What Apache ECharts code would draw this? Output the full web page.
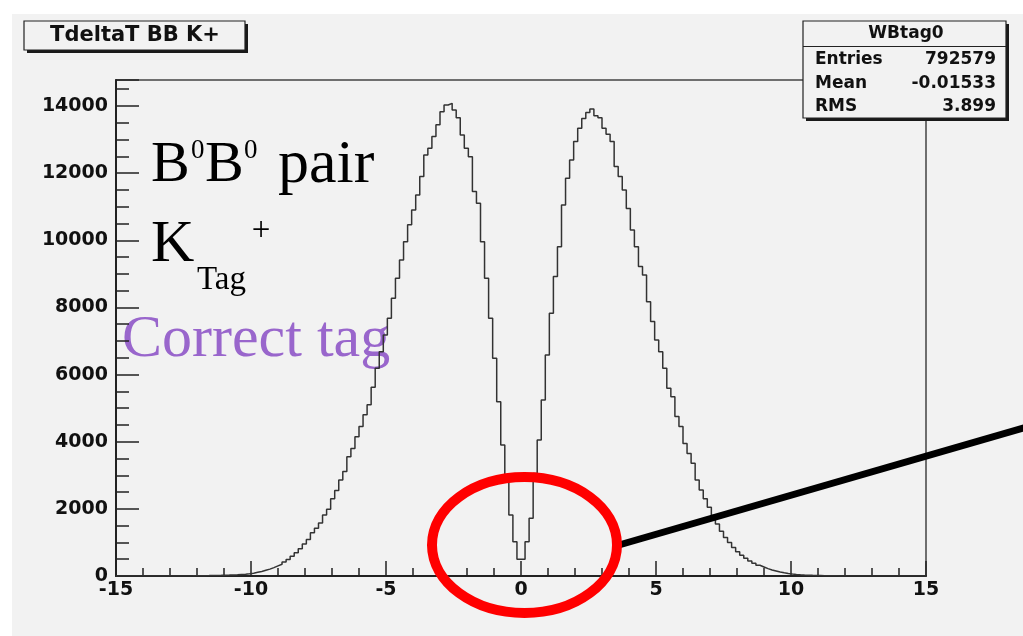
<!DOCTYPE html>
<html>
<head>
<meta charset="utf-8">
<script src="https://cdn.jsdelivr.net/npm/echarts/dist/echarts.min.js"></script>
<style>
  html, body { margin: 0; padding: 0; background: #ffffff; }
  #chart { width: 1023px; height: 636px; }
</style>
</head>
<body>
<div id="chart"></div>
<script>
// Histogram of the proper-time difference, 200 bins between -15 and 15
const histTitle = 'TdeltaT BB K+';
const histName = 'WBtag0';
const xRange = [-15, 15];
const binCount = 200;

// Bin contents, left to right
const counts = [
  0, 0, 0, 0, 0, 0, 0, 0, 0, 0,
  0, 0, 0, 0, 0, 1, 2, 3, 4, 6,
  8, 10, 12, 15, 18, 20, 24, 28, 33, 40,
  48, 55, 68, 85, 110, 135, 170, 205, 250, 300,
  350, 420, 490, 590, 690, 810, 950, 1090, 1290, 1420,
  1580, 1820, 1990, 2300, 2550, 2860, 3110, 3550, 3800, 4150,
  4450, 4800, 5100, 5620, 6190, 6680, 7180, 7680, 8270, 8870,
  9410, 9960, 10460, 10900, 11350, 11900, 12540, 12740, 13090, 13440,
  13830, 14030, 14080, 13880, 13650, 13140, 12740, 12490, 11450, 11100,
  9960, 8870, 7680, 6490, 5190, 3900, 2910, 1820, 1020, 500,
  500, 1020, 1720, 3050, 4050, 5240, 6580, 7830, 8920, 9810,
  11050, 11850, 12390, 12940, 13340, 13630, 13810, 13910, 13710, 13650,
  13340, 13160, 12940, 12200, 11900, 11500, 10950, 10310, 9810, 9220,
  8970, 8170, 7580, 7030, 6680, 6190, 5590, 5340, 4750, 4450,
  3950, 3650, 3360, 2860, 2560, 2300, 2050, 1800, 1550, 1330,
  1150, 1000, 850, 720, 620, 530, 450, 380, 320, 270,
  220, 180, 150, 120, 95, 75, 60, 48, 38, 30,
  24, 19, 15, 12, 9, 7, 5, 4, 3, 2,
  1, 0, 0, 0, 0, 0, 0, 0, 0, 0,
  0, 0, 0, 0, 0, 0, 0, 0, 0, 0
];

// Statistics box rows
const statLabels = ['Entries', 'Mean', 'RMS'];
const statValues = ['792579', '-0.01533', '3.899'];

// Axis ranges and tick steps
const yMax = 14775;
const xMajor = 5, xMinor = 1;
const yMajor = 2000, yMinor = 500;

const binWidth = (xRange[1] - xRange[0]) / binCount;
const stepData = counts.map((c, i) => [xRange[0] + i * binWidth, c]);
stepData.push([xRange[1], counts[counts.length - 1]]);

const sansBold = '"DejaVu Sans", sans-serif';
const serif = '"Liberation Serif", "Times New Roman", serif';
const ink = '#222';

const chart = echarts.init(document.getElementById('chart'), null, { renderer: 'canvas' });

// ROOT-style pave: dark offset shadow under a framed box
function pave(x, y, w, h) {
  return [
    { type: 'rect', shape: { x: x + 3, y: y + 3, width: w, height: h }, style: { fill: '#1a1a1a' } },
    { type: 'rect', shape: { x: x, y: y, width: w, height: h }, style: { fill: '#f2f2f2', stroke: '#222', lineWidth: 1.2 } }
  ];
}

const statRowText = [];
statLabels.forEach((lab, i) => {
  const y = 60 + i * 23.5;
  statRowText.push({
    type: 'text', x: 815, y: y,
    style: { text: lab, font: 'bold 17px ' + sansBold, fill: '#111', align: 'left', verticalAlign: 'middle' }
  });
  statRowText.push({
    type: 'text', x: 996, y: y,
    style: { text: statValues[i], font: 'bold 17px ' + sansBold, fill: '#111', align: 'right', verticalAlign: 'middle' }
  });
});

const option = {
  animation: false,
  backgroundColor: '#f2f2f2',
  grid: {
    left: 116, right: 97, top: 80, bottom: 60,
    show: true, borderColor: '#444', borderWidth: 1.5, backgroundColor: 'transparent'
  },
  xAxis: [
    {
      type: 'value', position: 'bottom', min: xRange[0], max: xRange[1], interval: xMinor,
      axisLine: { show: true, onZero: false, lineStyle: { color: ink, width: 2 } },
      axisTick: { show: true, inside: true, length: 8, lineStyle: { color: ink, width: 1.5 } },
      axisLabel: {
        show: true, margin: 5, color: '#111', fontFamily: sansBold, fontWeight: 'bold', fontSize: 19,
        formatter: v => (Math.abs(v % xMajor) < 1e-9 ? String(v) : '')
      },
      splitLine: { show: false }
    },
    {
      type: 'value', position: 'bottom', min: xRange[0], max: xRange[1], interval: xMajor,
      axisLine: { show: false, onZero: false },
      axisTick: { show: true, inside: true, length: 15, lineStyle: { color: ink, width: 1.5 } },
      axisLabel: { show: false },
      splitLine: { show: false }
    }
  ],
  yAxis: [
    {
      type: 'value', position: 'left', min: 0, max: yMax, interval: yMinor,
      axisLine: { show: true, onZero: false, lineStyle: { color: ink, width: 2 } },
      axisTick: { show: true, inside: true, length: 13, lineStyle: { color: ink, width: 1.5 } },
      axisLabel: {
        show: true, margin: 8, color: '#111', fontFamily: sansBold, fontWeight: 'bold', fontSize: 19,
        formatter: v => (v % yMajor === 0 ? String(v) : '')
      },
      splitLine: { show: false }
    },
    {
      type: 'value', position: 'left', min: 0, max: yMax, interval: yMajor,
      axisLine: { show: false, onZero: false },
      axisTick: { show: true, inside: true, length: 23, lineStyle: { color: ink, width: 1.5 } },
      axisLabel: { show: false },
      splitLine: { show: false }
    }
  ],
  series: [
    {
      name: histName,
      type: 'line',
      step: 'end',
      xAxisIndex: 0,
      yAxisIndex: 0,
      data: stepData,
      showSymbol: false,
      symbol: 'none',
      lineStyle: { color: '#333', width: 1.5 },
      silent: true,
      z: 3
    }
  ],
  graphic: [
    // white margin of the pad
    { type: 'rect', shape: { x: 0, y: 0, width: 1023, height: 14 }, style: { fill: '#ffffff' }, silent: true },
    { type: 'rect', shape: { x: 0, y: 0, width: 12, height: 636 }, style: { fill: '#ffffff' }, silent: true },
    // title box
    {
      type: 'group',
      children: pave(24, 21, 221, 29).concat([
        {
          type: 'text', x: 135, y: 36,
          style: { text: histTitle, font: 'bold 21px ' + sansBold, fill: '#111', align: 'center', verticalAlign: 'middle' }
        }
      ])
    },
    // statistics box
    {
      type: 'group',
      children: pave(803, 21, 203, 97).concat([
        { type: 'line', shape: { x1: 803, y1: 46.5, x2: 1006, y2: 46.5 }, style: { stroke: '#222', lineWidth: 1.2 } },
        {
          type: 'text', x: 906, y: 34,
          style: { text: histName, font: 'bold 17px ' + sansBold, fill: '#111', align: 'center', verticalAlign: 'middle' }
        }
      ]).concat(statRowText)
    },
    // annotations
    { type: 'text', x: 151, y: 166, style: { text: 'B', font: '58px ' + serif, fill: '#000', align: 'left', verticalAlign: 'middle' } },
    { type: 'text', x: 191, y: 151, style: { text: '0', font: '27px ' + serif, fill: '#000', align: 'left', verticalAlign: 'middle' } },
    { type: 'text', x: 205, y: 166, style: { text: 'B', font: '58px ' + serif, fill: '#000', align: 'left', verticalAlign: 'middle' } },
    { type: 'text', x: 244, y: 151, style: { text: '0', font: '27px ' + serif, fill: '#000', align: 'left', verticalAlign: 'middle' } },
    { type: 'text', x: 278, y: 166, style: { text: 'pair', font: '62px ' + serif, fill: '#000', align: 'left', verticalAlign: 'middle' } },
    { type: 'text', x: 151, y: 245, style: { text: 'K', font: '60px ' + serif, fill: '#000', align: 'left', verticalAlign: 'middle' } },
    { type: 'text', x: 197, y: 280, style: { text: 'Tag', font: '33px ' + serif, fill: '#000', align: 'left', verticalAlign: 'middle' } },
    { type: 'text', x: 261, y: 231, style: { text: '+', font: '33px ' + serif, fill: '#000', align: 'center', verticalAlign: 'middle' } },
    { type: 'text', x: 122, y: 340, style: { text: 'Correct tag', font: '60px ' + serif, fill: '#9966cc', align: 'left', verticalAlign: 'middle' } },
    // pointer line and highlight ring around the dip
    { type: 'line', shape: { x1: 619, y1: 545, x2: 1030, y2: 426 }, style: { stroke: '#000', lineWidth: 7 }, z: 10 },
    { type: 'ellipse', shape: { cx: 524.5, cy: 545, rx: 92.5, ry: 68 }, style: { fill: 'none', stroke: '#ff0000', lineWidth: 10 }, z: 11 }
  ]
};

chart.setOption(option);
</script>
</body>
</html>
